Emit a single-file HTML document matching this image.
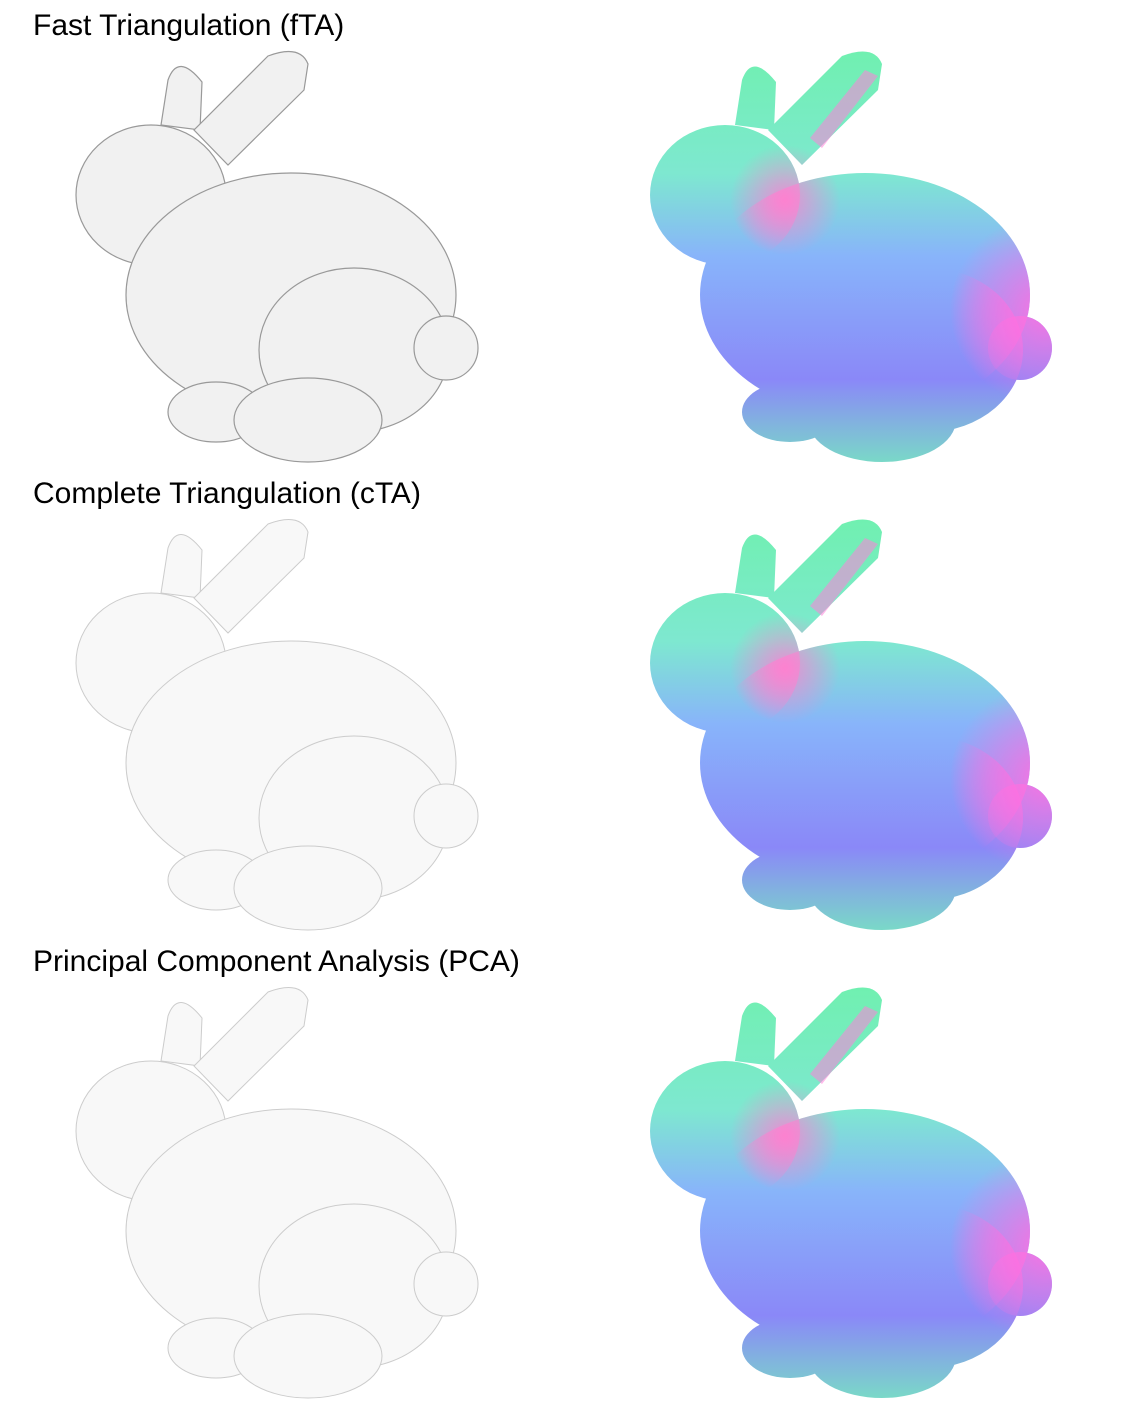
<!DOCTYPE html>
<html><head><meta charset="utf-8">
<style>
html,body{margin:0;padding:0;background:#fff;}
svg{display:block;}
text{font-family:"Liberation Sans",Arial,sans-serif;font-size:30px;fill:#000;}
</style></head>
<body>
<svg width="1139" height="1404" viewBox="0 0 1139 1404">
<defs>
  <g id="bunny">
    <path d="M85,75 L92,30 Q102,2 126,32 L124,80 Z"/>
    <path d="M118,80 L192,6 Q224,-6 232,14 L228,40 L152,115 Z"/>
    <ellipse cx="75" cy="145" rx="75" ry="70"/>
    <ellipse cx="215" cy="245" rx="165" ry="122"/>
    <ellipse cx="278" cy="300" rx="95" ry="82"/>
    <circle cx="370" cy="298" r="32"/>
    <ellipse cx="140" cy="362" rx="48" ry="30"/>
    <ellipse cx="232" cy="370" rx="74" ry="42"/>
  </g>
  <linearGradient id="base" gradientUnits="userSpaceOnUse" x1="0" y1="0" x2="0" y2="412">
    <stop offset="0" stop-color="#70f0b0"/>
    <stop offset="0.3" stop-color="#7ee8d0"/>
    <stop offset="0.5" stop-color="#88b4fa"/>
    <stop offset="0.8" stop-color="#8a88f8"/>
    <stop offset="1" stop-color="#7ad8c8"/>
  </linearGradient>
  <radialGradient id="pinkR" gradientUnits="userSpaceOnUse" cx="395" cy="260" r="95">
    <stop offset="0" stop-color="#ff70e0" stop-opacity="0.95"/>
    <stop offset="0.6" stop-color="#ff70e0" stop-opacity="0.4"/>
    <stop offset="1" stop-color="#ff70e0" stop-opacity="0"/>
  </radialGradient>
  <radialGradient id="pinkH" gradientUnits="userSpaceOnUse" cx="135" cy="150" r="55">
    <stop offset="0" stop-color="#ff80d0" stop-opacity="0.85"/>
    <stop offset="1" stop-color="#ff80d0" stop-opacity="0"/>
  </radialGradient>
  <g id="colorBunny">
    <use href="#bunny" fill="url(#base)"/>
    <use href="#bunny" fill="url(#pinkR)"/>
    <use href="#bunny" fill="url(#pinkH)"/>
    <path d="M160,88 L215,20 L228,26 L172,98 Z" fill="#ff80d8" opacity="0.55"/>
  </g>
</defs>

<g>
  <text x="33" y="35">Fast Triangulation (fTA)</text>
  <g transform="translate(76,50)">
    <use href="#bunny" fill="#f1f1f1" stroke="#999" stroke-width="1.2"/>
  </g>
  <g transform="translate(650,50)">
    <use href="#colorBunny"/>
  </g>
</g>

<g>
  <text x="33" y="503">Complete Triangulation (cTA)</text>
  <g transform="translate(76,518)">
    <use href="#bunny" fill="#f8f8f8" stroke="#ccc" stroke-width="1"/>
  </g>
  <g transform="translate(650,518)">
    <use href="#colorBunny"/>
  </g>
</g>

<g>
  <text x="33" y="971">Principal Component Analysis (PCA)</text>
  <g transform="translate(76,986)">
    <use href="#bunny" fill="#f8f8f8" stroke="#ccc" stroke-width="1"/>
  </g>
  <g transform="translate(650,986)">
    <use href="#colorBunny"/>
  </g>
</g>
</svg>
</body></html>
